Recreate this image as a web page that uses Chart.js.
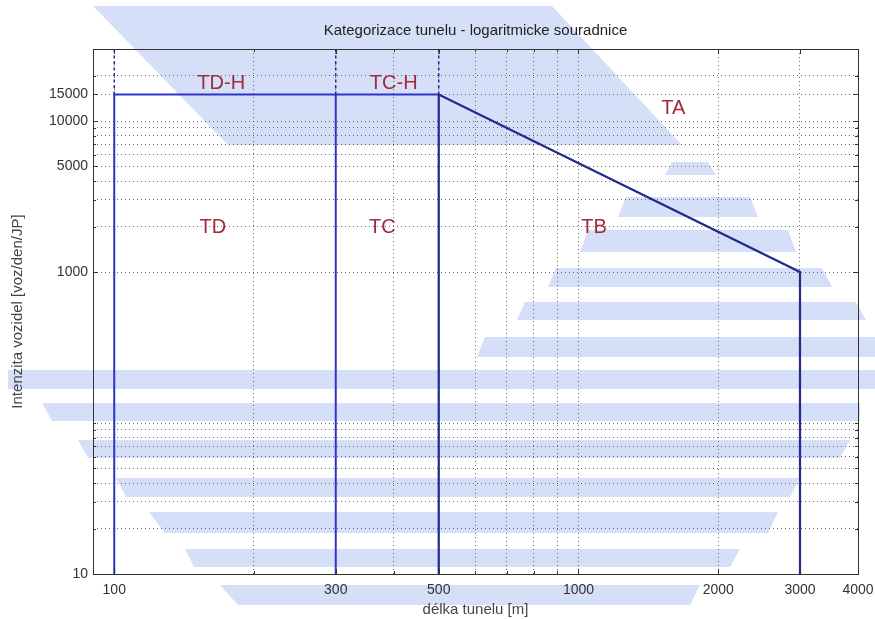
<!DOCTYPE html>
<html>
<head>
<meta charset="utf-8">
<script src="https://cdn.jsdelivr.net/npm/chart.js@4"></script>
<style>
    html, body { margin: 0; padding: 0; background: #fff; }
</style>
</head>
<body>
<canvas id="myChart" width="875" height="619"></canvas>
<script>
// hranice kategorii tunelu (delka [m], intenzita [voz/den/JP])
const blueLineX = [100, 100, 500];
const blueLineY = [10, 15000, 15000];
const midLineX = [300, 300];
const midLineY = [10, 15000];
const navyLineX = [500, 500, 3000, 3000];
const navyLineY = [10, 15000, 1000, 10];
const topDashX = [100, 300, 500];
const topDashY = [15000, 30000];

// popisky kategorii
const zoneNames = ['TD-H', 'TC-H', 'TA', 'TD', 'TC', 'TB'];
const zoneX = [170, 400, 1600, 163, 378, 1080];
const zoneY = [17700, 17700, 12200, 1970, 1970, 1970];

// osy
const xGridTicks = [100, 200, 300, 400, 500, 600, 700, 800, 900, 1000, 2000, 3000, 4000];
const xTickLabels = [100, 300, 500, 1000, 2000, 3000, 4000];
const yGridTicks = [10, 20, 30, 40, 50, 60, 70, 80, 90, 100,
    1000, 2000, 3000, 4000, 5000, 6000, 7000, 8000, 9000, 10000, 15000, 20000, 30000];
const yTickLabels = [10, 1000, 5000, 10000, 15000];

// vodoznak v pozadi (pixely platna): [yTop, yBottom, xLeftTop, xLeftBottom, xRightTop, xRightBottom]
const watermarkBands = [
    [6, 145, 93, 228, 552, 682],
    [162, 175, 672, 665, 708, 716],
    [197, 217, 626, 618, 750, 758],
    [230, 252, 588, 580, 788, 796],
    [268, 287, 556, 548, 822, 832],
    [302, 320, 525, 517, 856, 866],
    [337, 357, 485, 477, 875, 875],
    [370, 389, 8, 8, 875, 875],
    [403, 421, 42, 52, 860, 860],
    [440, 458, 78, 88, 850, 840],
    [478, 497, 116, 126, 800, 790],
    [512, 533, 149, 165, 778, 768],
    [549, 567, 185, 194, 740, 730],
    [585, 605, 220, 238, 700, 690]
];

const FONT = "'Liberation Sans', Arial, sans-serif";
const BLUE = '#2f34c8';
const NAVY = '#1f2b8c';

function pts(xs, ys) {
    return xs.map((x, i) => ({ x: x, y: ys[i] }));
}

const watermark = {
    id: 'watermark',
    beforeDraw(chart) {
        const ctx = chart.ctx;
        ctx.save();
        ctx.fillStyle = '#d6dff8';
        watermarkBands.forEach(b => {
            ctx.beginPath();
            ctx.moveTo(b[2], b[0]);
            ctx.lineTo(b[4], b[0]);
            ctx.lineTo(b[5], b[1]);
            ctx.lineTo(b[3], b[1]);
            ctx.closePath();
            ctx.fill();
        });
        ctx.restore();
    }
};

const frameAndLabels = {
    id: 'frameAndLabels',
    afterDraw(chart) {
        const ctx = chart.ctx;
        const a = chart.chartArea;
        const xs = chart.scales.x;
        const ys = chart.scales.y;
        ctx.save();
        // ramecek
        ctx.strokeStyle = '#333';
        ctx.lineWidth = 1;
        ctx.strokeRect(Math.round(a.left) + 0.5, Math.round(a.top) + 0.5,
            Math.round(a.right - a.left), Math.round(a.bottom - a.top));
        // tick znacky dovnitr
        ctx.beginPath();
        xGridTicks.forEach(v => {
            const px = Math.round(xs.getPixelForValue(v)) + 0.5;
            const len = xTickLabels.includes(v) ? 5 : 3;
            ctx.moveTo(px, a.bottom); ctx.lineTo(px, a.bottom - len);
            ctx.moveTo(px, a.top); ctx.lineTo(px, a.top + len);
        });
        yGridTicks.forEach(v => {
            const py = Math.round(ys.getPixelForValue(v)) + 0.5;
            const len = yTickLabels.includes(v) ? 5 : 3;
            ctx.moveTo(a.left, py); ctx.lineTo(a.left + len, py);
            ctx.moveTo(a.right, py); ctx.lineTo(a.right - len, py);
        });
        ctx.stroke();
        // nadpis nad grafem
        ctx.fillStyle = '#222';
        ctx.font = '15px ' + FONT;
        ctx.textAlign = 'center';
        ctx.textBaseline = 'middle';
        ctx.fillText('Kategorizace tunelu - logaritmicke souradnice', (a.left + a.right) / 2, 31);
        // popisky kategorii
        ctx.fillStyle = '#a12a3c';
        ctx.font = '20px ' + FONT;
        zoneNames.forEach((name, i) => {
            ctx.fillText(name, xs.getPixelForValue(zoneX[i]), ys.getPixelForValue(zoneY[i]));
        });
        ctx.restore();
    }
};

const lineStyle = {
    showLine: true,
    pointRadius: 0,
    fill: false,
    tension: 0,
    borderWidth: 2
};

const datasets = [
    Object.assign({ data: pts(blueLineX, blueLineY), borderColor: BLUE }, lineStyle),
    Object.assign({ data: pts(midLineX, midLineY), borderColor: BLUE }, lineStyle),
    Object.assign({}, lineStyle, { data: pts(navyLineX, navyLineY), borderColor: NAVY, borderWidth: 2.2 })
];
topDashX.forEach(x => {
    datasets.push(Object.assign({}, lineStyle, {
        data: pts([x, x], topDashY),
        borderColor: NAVY,
        borderWidth: 1.5,
        borderDash: [3, 3]
    }));
});

const gridColor = 'rgba(60,60,60,0.75)';

const config = {
    type: 'scatter',
    data: { datasets: datasets },
    options: {
        responsive: false,
        devicePixelRatio: 1,
        animation: false,
        layout: { padding: { left: 0, right: 17, top: 49, bottom: 0 } },
        plugins: {
            legend: { display: false },
            tooltip: { enabled: false },
            title: { display: false }
        },
        scales: {
            x: {
                type: 'logarithmic',
                min: 90,
                max: 4000,
                afterBuildTicks: s => { s.ticks = xGridTicks.map(v => ({ value: v })); },
                afterFit: s => {
                    s.height = 45;
                    s.paddingLeft = 0;
                    s.paddingRight = 0;
                },
                ticks: {
                    autoSkip: false,
                    maxRotation: 0,
                    padding: 8,
                    color: '#333',
                    font: { family: FONT, size: 14 },
                    callback: v => xTickLabels.includes(v) ? String(v) : ''
                },
                grid: { color: gridColor, lineWidth: 1, drawTicks: false },
                border: { display: false, dash: [1, 3] },
                title: {
                    display: true,
                    text: 'délka tunelu [m]',
                    color: '#444',
                    font: { family: FONT, size: 15 },
                    padding: { top: 0, bottom: 0 }
                }
            },
            y: {
                type: 'logarithmic',
                min: 10,
                max: 30000,
                afterBuildTicks: s => { s.ticks = yGridTicks.map(v => ({ value: v })); },
                afterFit: s => {
                    s.width = 93;
                    s.paddingTop = 0;
                    s.paddingBottom = 0;
                },
                ticks: {
                    autoSkip: false,
                    padding: 5,
                    color: '#333',
                    font: { family: FONT, size: 14 },
                    callback: v => yTickLabels.includes(v) ? String(v) : ''
                },
                grid: { color: gridColor, lineWidth: 1, drawTicks: false },
                border: { display: false, dash: [1, 3] },
                title: {
                    display: true,
                    text: 'Intenzita vozidel [voz/den/JP]',
                    color: '#444',
                    font: { family: FONT, size: 15 },
                    padding: { top: 9, bottom: 0 }
                }
            }
        }
    },
    plugins: [watermark, frameAndLabels]
};

const ctx = document.getElementById('myChart').getContext('2d');
const myChart = new Chart(ctx, config);
</script>
</body>
</html>
